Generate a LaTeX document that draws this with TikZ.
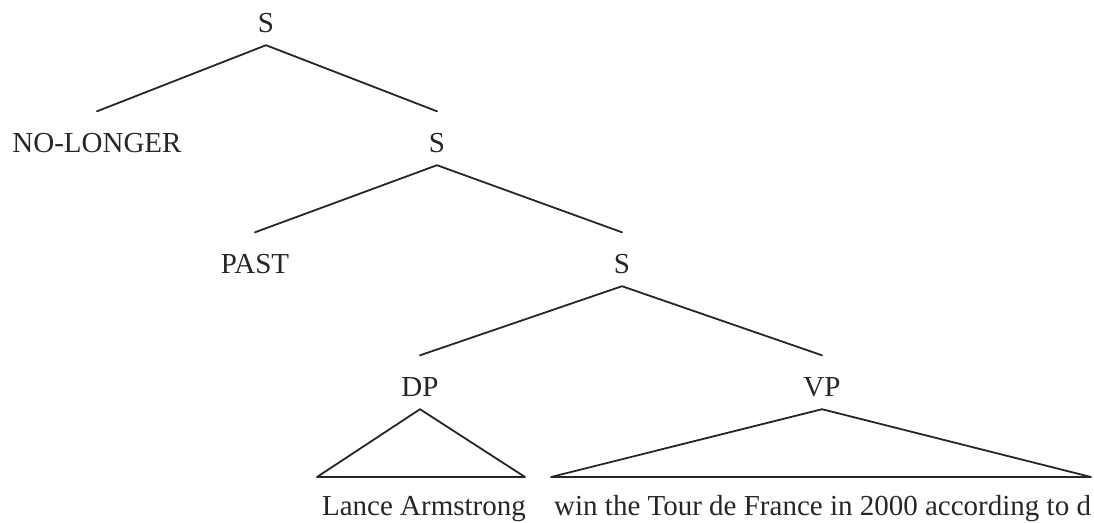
\documentclass[tikz,border=0pt]{standalone}
\usepackage{fontspec}
\setmainfont{Liberation Serif}
\begin{document}
\begin{tikzpicture}[x=1pt,y=-1pt,
  lab/.style={anchor=base,inner sep=0pt,text height=40.5pt,text depth=13pt,text=black!85},
  leaf/.style={inner sep=0pt,text=black!85},
  edge/.style={line width=1.8pt,black!85,line cap=round,line join=round},
  font=\fontsize{29}{35}\selectfont]
\useasboundingbox (0,0) rectangle (1094,522);
% labels (baseline = visual centre + 10)
\node[lab] (s1)   at (266,32)  {S};
\node[lab] (nl)   at (97,152)  {NO-LONGER};
\node[lab] (s2)   at (437,152) {S};
\node[lab] (past) at (255,273) {PAST};
\node[lab] (s3)   at (622,273) {S};
\node[lab] (dp)   at (420,396) {DP};
\node[lab] (vp)   at (822,396) {VP};
\node[leaf,anchor=base] (la) at (424,515) {Lance Armstrong};
\node[leaf,anchor=base west] (wn) at (554,515) {win the Tour de France in 2000 according to d};
% triangle corners
\coordinate (dpl) at (317,477);
\coordinate (dpr) at (525,477);
\coordinate (vpl) at (551,477);
\coordinate (vpr) at (1091,477);
% branches
\draw[edge] (nl.north) -- (s1.south) -- (s2.north);
\draw[edge] (past.north) -- (s2.south) -- (s3.north);
\draw[edge] (dp.north) -- (s3.south) -- (vp.north);
\draw[edge] (dp.south) -- (dpl) -- (dpr) -- cycle;
\draw[edge] (vp.south) -- (vpl) -- (vpr) -- cycle;
\end{tikzpicture}
\end{document}
